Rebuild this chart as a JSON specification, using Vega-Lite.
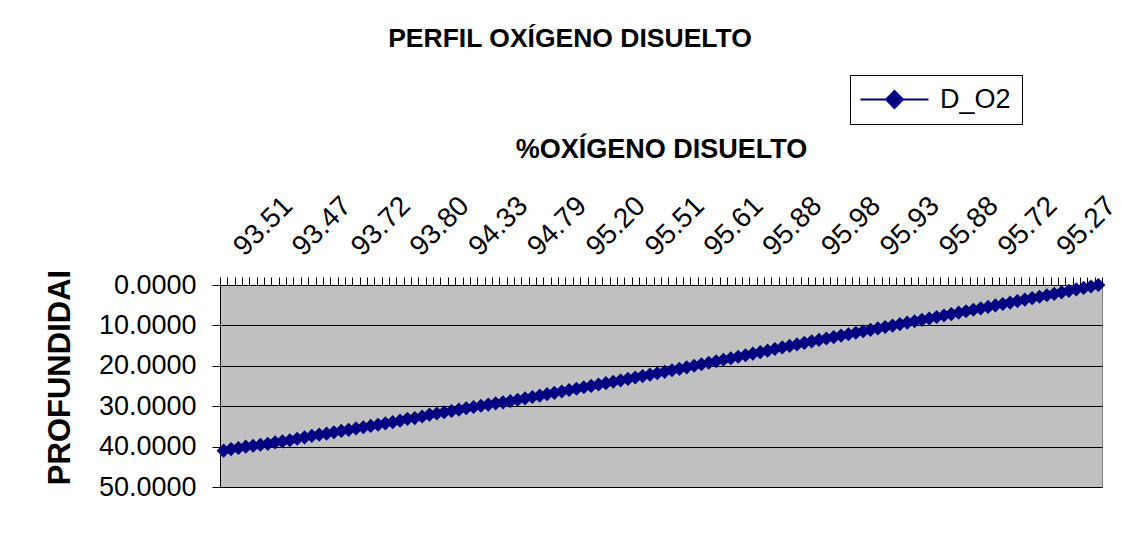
{
  "$schema": "https://vega.github.io/schema/vega-lite/v6.json",
  "width": 882,
  "height": 202,
  "autosize": {"type": "none"},
  "padding": {"left": 220, "top": 285, "right": 20, "bottom": 54},
  "background": "white",
  "title": {"text": "PERFIL OXÍGENO DISUELTO", "font": "Liberation Sans", "fontSize": 26.5, "fontWeight": "bold", "color": "black", "anchor": "middle", "dx": -91, "offset": 22},
  "data": {"values": [
    {"idx":1,"prof":41.00,"serie":"D_O2"},{"idx":2,"prof":40.62,"serie":"D_O2"},{"idx":3,"prof":40.35,"serie":"D_O2"},{"idx":4,"prof":40.02,"serie":"D_O2"},{"idx":5,"prof":39.80,"serie":"D_O2"},
    {"idx":6,"prof":39.55,"serie":"D_O2"},{"idx":7,"prof":39.31,"serie":"D_O2"},{"idx":8,"prof":38.95,"serie":"D_O2"},{"idx":9,"prof":38.70,"serie":"D_O2"},{"idx":10,"prof":38.42,"serie":"D_O2"},
    {"idx":11,"prof":38.05,"serie":"D_O2"},{"idx":12,"prof":37.70,"serie":"D_O2"},{"idx":13,"prof":37.35,"serie":"D_O2"},{"idx":14,"prof":37.02,"serie":"D_O2"},{"idx":15,"prof":36.80,"serie":"D_O2"},
    {"idx":16,"prof":36.45,"serie":"D_O2"},{"idx":17,"prof":36.12,"serie":"D_O2"},{"idx":18,"prof":35.85,"serie":"D_O2"},{"idx":19,"prof":35.50,"serie":"D_O2"},{"idx":20,"prof":35.21,"serie":"D_O2"},
    {"idx":21,"prof":34.88,"serie":"D_O2"},{"idx":22,"prof":34.60,"serie":"D_O2"},{"idx":23,"prof":34.25,"serie":"D_O2"},{"idx":24,"prof":33.95,"serie":"D_O2"},{"idx":25,"prof":33.58,"serie":"D_O2"},
    {"idx":26,"prof":33.12,"serie":"D_O2"},{"idx":27,"prof":32.95,"serie":"D_O2"},{"idx":28,"prof":32.55,"serie":"D_O2"},{"idx":29,"prof":32.10,"serie":"D_O2"},{"idx":30,"prof":31.82,"serie":"D_O2"},
    {"idx":31,"prof":31.50,"serie":"D_O2"},{"idx":32,"prof":31.20,"serie":"D_O2"},{"idx":33,"prof":30.85,"serie":"D_O2"},{"idx":34,"prof":30.52,"serie":"D_O2"},{"idx":35,"prof":30.20,"serie":"D_O2"},
    {"idx":36,"prof":29.90,"serie":"D_O2"},{"idx":37,"prof":29.60,"serie":"D_O2"},{"idx":38,"prof":29.30,"serie":"D_O2"},{"idx":39,"prof":29.05,"serie":"D_O2"},{"idx":40,"prof":28.75,"serie":"D_O2"},
    {"idx":41,"prof":28.40,"serie":"D_O2"},{"idx":42,"prof":28.05,"serie":"D_O2"},{"idx":43,"prof":27.72,"serie":"D_O2"},{"idx":44,"prof":27.40,"serie":"D_O2"},{"idx":45,"prof":27.02,"serie":"D_O2"},
    {"idx":46,"prof":26.70,"serie":"D_O2"},{"idx":47,"prof":26.35,"serie":"D_O2"},{"idx":48,"prof":26.00,"serie":"D_O2"},{"idx":49,"prof":25.68,"serie":"D_O2"},{"idx":50,"prof":25.32,"serie":"D_O2"},
    {"idx":51,"prof":24.98,"serie":"D_O2"},{"idx":52,"prof":24.62,"serie":"D_O2"},{"idx":53,"prof":24.30,"serie":"D_O2"},{"idx":54,"prof":23.95,"serie":"D_O2"},{"idx":55,"prof":23.60,"serie":"D_O2"},
    {"idx":56,"prof":23.25,"serie":"D_O2"},{"idx":57,"prof":22.90,"serie":"D_O2"},{"idx":58,"prof":22.55,"serie":"D_O2"},{"idx":59,"prof":22.20,"serie":"D_O2"},{"idx":60,"prof":21.85,"serie":"D_O2"},
    {"idx":61,"prof":21.50,"serie":"D_O2"},{"idx":62,"prof":21.10,"serie":"D_O2"},{"idx":63,"prof":20.75,"serie":"D_O2"},{"idx":64,"prof":20.38,"serie":"D_O2"},{"idx":65,"prof":20.00,"serie":"D_O2"},
    {"idx":66,"prof":19.62,"serie":"D_O2"},{"idx":67,"prof":19.25,"serie":"D_O2"},{"idx":68,"prof":18.88,"serie":"D_O2"},{"idx":69,"prof":18.50,"serie":"D_O2"},{"idx":70,"prof":18.12,"serie":"D_O2"},
    {"idx":71,"prof":17.75,"serie":"D_O2"},{"idx":72,"prof":17.38,"serie":"D_O2"},{"idx":73,"prof":17.00,"serie":"D_O2"},{"idx":74,"prof":16.62,"serie":"D_O2"},{"idx":75,"prof":16.25,"serie":"D_O2"},
    {"idx":76,"prof":15.85,"serie":"D_O2"},{"idx":77,"prof":15.45,"serie":"D_O2"},{"idx":78,"prof":15.08,"serie":"D_O2"},{"idx":79,"prof":14.70,"serie":"D_O2"},{"idx":80,"prof":14.32,"serie":"D_O2"},
    {"idx":81,"prof":13.95,"serie":"D_O2"},{"idx":82,"prof":13.60,"serie":"D_O2"},{"idx":83,"prof":13.25,"serie":"D_O2"},{"idx":84,"prof":12.90,"serie":"D_O2"},{"idx":85,"prof":12.52,"serie":"D_O2"},
    {"idx":86,"prof":12.18,"serie":"D_O2"},{"idx":87,"prof":11.82,"serie":"D_O2"},{"idx":88,"prof":11.45,"serie":"D_O2"},{"idx":89,"prof":11.10,"serie":"D_O2"},{"idx":90,"prof":10.75,"serie":"D_O2"},
    {"idx":91,"prof":10.40,"serie":"D_O2"},{"idx":92,"prof":10.05,"serie":"D_O2"},{"idx":93,"prof":9.68,"serie":"D_O2"},{"idx":94,"prof":9.32,"serie":"D_O2"},{"idx":95,"prof":8.98,"serie":"D_O2"},
    {"idx":96,"prof":8.62,"serie":"D_O2"},{"idx":97,"prof":8.28,"serie":"D_O2"},{"idx":98,"prof":7.92,"serie":"D_O2"},{"idx":99,"prof":7.56,"serie":"D_O2"},{"idx":100,"prof":7.20,"serie":"D_O2"},
    {"idx":101,"prof":6.85,"serie":"D_O2"},{"idx":102,"prof":6.50,"serie":"D_O2"},{"idx":103,"prof":6.12,"serie":"D_O2"},{"idx":104,"prof":5.78,"serie":"D_O2"},{"idx":105,"prof":5.42,"serie":"D_O2"},
    {"idx":106,"prof":5.05,"serie":"D_O2"},{"idx":107,"prof":4.70,"serie":"D_O2"},{"idx":108,"prof":4.35,"serie":"D_O2"},{"idx":109,"prof":3.98,"serie":"D_O2"},{"idx":110,"prof":3.62,"serie":"D_O2"},
    {"idx":111,"prof":3.25,"serie":"D_O2"},{"idx":112,"prof":2.90,"serie":"D_O2"},{"idx":113,"prof":2.55,"serie":"D_O2"},{"idx":114,"prof":2.18,"serie":"D_O2"},{"idx":115,"prof":1.82,"serie":"D_O2"},
    {"idx":116,"prof":1.45,"serie":"D_O2"},{"idx":117,"prof":1.10,"serie":"D_O2"},{"idx":118,"prof":0.72,"serie":"D_O2"},{"idx":119,"prof":0.36,"serie":"D_O2"},{"idx":120,"prof":0.00,"serie":"D_O2"}
  ]},
  "encoding": {
    "x": {
      "field": "idx", "type": "ordinal", "bandPosition": 0.5,
      "scale": {"type": "band", "paddingInner": 0, "paddingOuter": 0},
      "axis": {
        "orient": "top",
        "title": "%OXÍGENO DISUELTO",
        "labelExpr": "datum.value == 3 ? '93.51' : datum.value == 11 ? '93.47' : datum.value == 19 ? '93.72' : datum.value == 27 ? '93.80' : datum.value == 35 ? '94.33' : datum.value == 43 ? '94.79' : datum.value == 51 ? '95.20' : datum.value == 59 ? '95.51' : datum.value == 67 ? '95.61' : datum.value == 75 ? '95.88' : datum.value == 83 ? '95.98' : datum.value == 91 ? '95.93' : datum.value == 99 ? '95.88' : datum.value == 107 ? '95.72' : datum.value == 115 ? '95.27' : ''",
        "labelAngle": -45, "labelAlign": "left", "labelBaseline": "middle",
        "labelFontSize": 28, "labelColor": "black", "labelOverlap": false, "labelPadding": 26,
        "tickBand": "extent", "tickSize": 8, "tickColor": "black", "domainColor": "black",
        "titleFontSize": 27, "titleFontWeight": "bold", "titleColor": "black", "titlePadding": 28,
        "grid": false
      }
    },
    "y": {
      "field": "prof", "type": "quantitative",
      "scale": {"domain": [0, 50], "reverse": true, "nice": false},
      "axis": {
        "title": "PROFUNDIDAI", "format": ".4f", "values": [0, 10, 20, 30, 40, 50],
        "labelFontSize": 27, "labelColor": "black", "labelPadding": 16,
        "tickSize": 8, "tickColor": "black", "domainColor": "black",
        "grid": true, "gridColor": "black", "gridOpacity": 1,
        "titleFontSize": 31, "titleFontWeight": "bold", "titleColor": "black", "titlePadding": 22, "titleY": 92
      }
    },
    "color": {
      "field": "serie", "type": "nominal", "scale": {"range": ["#000080"]},
      "legend": {
        "title": null, "orient": "none", "legendX": 630, "legendY": -210,
        "strokeColor": "black", "fillColor": "white", "padding": 11,
        "symbolType": "M-4,0L4,0M0,-1L1,0L0,1L-1,0Z", "symbolSize": 289,
        "symbolFillColor": "#000080", "symbolStrokeColor": "#000080", "symbolStrokeWidth": 2,
        "symbolOffset": 20, "labelOffset": 32,
        "labelFontSize": 27, "labelColor": "black"
      }
    }
  },
  "layer": [
    {"mark": {"type": "line", "strokeWidth": 2}},
    {"mark": {"type": "point", "shape": "diamond", "filled": true, "size": 200, "opacity": 1}}
  ],
  "config": {
    "font": "Liberation Sans",
    "view": {"fill": "#C0C0C0", "stroke": "#808080", "strokeWidth": 1}
  }
}
